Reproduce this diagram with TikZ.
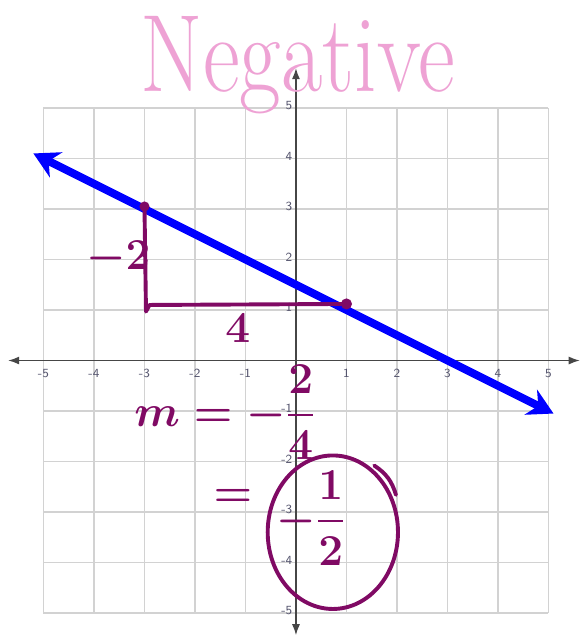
\documentclass[tikz,border=0pt]{standalone}
\usepackage{amsmath}
\usepackage{amssymb}
\usepackage{tikz}
\usetikzlibrary{arrows.meta}
\definecolor{plum}{RGB}{128,10,100}
\definecolor{pinkhand}{RGB}{238,162,212}
\definecolor{ticklbl}{RGB}{85,85,110}
\definecolor{axisgray}{RGB}{70,70,70}

\begin{document}
\begin{tikzpicture}[
    hand/.style={plum, font=\fontsize{26}{30}\selectfont\boldmath},
    ticktxt/.style={ticklbl, font=\fontsize{7}{8}\selectfont\sffamily, inner sep=1pt}
  ]
        \useasboundingbox (-5.861,-5.475) rectangle (5.644,7.139);
        \draw[gray!35, line width=0.9pt] (-5,-5) grid (5,5);
        \draw[axisgray, line width=0.8pt, {Latex[length=2.2mm,width=1.6mm]}-{Latex[length=2.2mm,width=1.6mm]}] (-5.7,0) -- (5.62,0);
        \draw[axisgray, line width=0.8pt, {Latex[length=2.2mm,width=1.6mm]}-{Latex[length=2.2mm,width=1.6mm]}] (0,-5.44) -- (0,5.79);
        \foreach \k in {-5,...,-1,1,2,3,4,5} {
            \node[ticktxt] (xt\k) at (\k,-0.25) {\k};
            \node[ticktxt, anchor=east] (yt\k) at (-0.03,\k+0.05) {\k};
        }
        \node[pinkhand, font=\fontsize{62}{62}\selectfont, xscale=0.82, inner sep=0pt] (title) at (0.04,5.85) {Negative};
        \draw[blue, line width=4.5pt, {Stealth[length=5mm,width=5.5mm]}-{Stealth[length=5mm,width=5.5mm]}] (-5.2,4.1) -- (5.1,-1.05);
        \draw[plum, line width=2.2pt, line join=round, line cap=round] (-3,3.05) -- (-2.97,0.97) -- (-2.9,1.1) -- (1,1.12);
        \fill[plum] (-3,3.05) circle (0.1);
        \fill[plum] (1,1.12) circle (0.11);
        \node[hand] (rise) at (-3.52,2.03) {$-2$};
        \node[hand] (run) at (-1.15,0.64) {$4$};
        \node[hand, font=\fontsize{30}{36}\selectfont\boldmath] (slope) at (-1.41,-1.02) {$m=-\dfrac{2}{4}$};
        \node[hand, font=\fontsize{30}{36}\selectfont\boldmath] (eqtwo) at (-1.25,-2.72) {$=$};
        \node[hand, font=\fontsize{30}{36}\selectfont\boldmath] (half) at (0.3,-3.12) {$-\dfrac{1}{2}$};
        \draw[plum, line width=2.2pt] (0.73,-3.4) ellipse (1.29 and 1.52);
        \draw[plum, line width=2.2pt, line cap=round] (1.55,-2.08) to[bend left=20] (1.98,-2.66);
    \end{tikzpicture}
\end{document}
